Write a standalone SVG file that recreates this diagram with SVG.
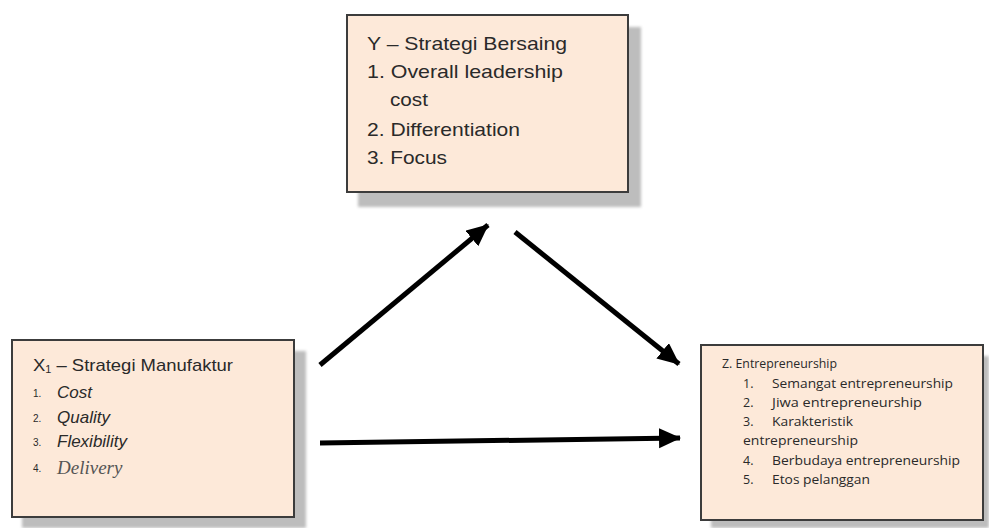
<svg xmlns="http://www.w3.org/2000/svg" width="989" height="528" viewBox="0 0 989 528">
<defs>
<marker id="ah" markerUnits="userSpaceOnUse" markerWidth="24" markerHeight="22" refX="21" refY="10" orient="auto">
<path d="M0,0 L22,10 L0,20 Z" fill="#000"/>
</marker>
<filter id="blur" x="-10%" y="-10%" width="120%" height="120%"><feGaussianBlur stdDeviation="1.5"/></filter>
</defs>
<style>
.shadow{fill:#bdbdbd;filter:url(#blur)}
.box{fill:#fde9d9;stroke:#3c3c3c;stroke-width:2}
.big{font-family:"Liberation Sans",Arial,sans-serif;font-size:19px;fill:#2a2a2a}
.mid{font-family:"Liberation Sans",Arial,sans-serif;font-size:17px;fill:#2a2a2a}
.num{font-family:"Liberation Sans",Arial,sans-serif;font-size:10px;fill:#2a2a2a}
.sm{font-family:"Open Sans","Liberation Sans",sans-serif;font-size:12.5px;fill:#2a2a2a}
.conn{stroke:#000;stroke-width:5;fill:none;marker-end:url(#ah)}
</style>
<rect width="989" height="528" fill="#fff"/>
<g id="node-y">
<rect class="shadow" x="358" y="27" width="283" height="180"/>
<rect class="box" x="347" y="15" width="281" height="177"/>
<text class="big" x="367" y="50" textLength="200" lengthAdjust="spacingAndGlyphs">Y – Strategi  Bersaing</text>
<text class="big" x="367" y="78" textLength="196" lengthAdjust="spacingAndGlyphs">1. Overall  leadership</text>
<text class="big" x="390" y="106" textLength="38" lengthAdjust="spacingAndGlyphs">cost</text>
<text class="big" x="367" y="136" textLength="153" lengthAdjust="spacingAndGlyphs">2. Differentiation</text>
<text class="big" x="367" y="164" textLength="80" lengthAdjust="spacingAndGlyphs">3. Focus</text>
</g>
<g id="node-x">
<rect class="shadow" x="22" y="351" width="284" height="177"/>
<rect class="box" x="12" y="340" width="282" height="177"/>
<text class="mid" x="33" y="371" textLength="200" lengthAdjust="spacingAndGlyphs">X<tspan font-size="10" dy="2">1</tspan><tspan dy="-2"> – Strategi Manufaktur</tspan></text>
<text class="num" x="33" y="397">1.</text>
<text class="mid" x="57" y="398" font-style="italic">Cost</text>
<text class="num" x="33" y="422">2.</text>
<text class="mid" x="57" y="423" font-style="italic">Quality</text>
<text class="num" x="33" y="446">3.</text>
<text class="mid" x="57" y="447" font-style="italic">Flexibility</text>
<text class="num" x="33" y="472">4.</text>
<text x="57" y="474" font-family="'Liberation Serif','Times New Roman',serif" font-size="19" font-style="italic" fill="#555">Delivery</text>
</g>
<g id="node-z">
<rect class="shadow" x="711" y="356" width="278" height="172"/>
<rect class="box" x="701" y="345" width="282" height="175"/>
<text class="sm" x="722" y="368" textLength="115" lengthAdjust="spacingAndGlyphs">Z. Entrepreneurship</text>
<text class="sm" x="743" y="388">1.</text>
<text class="sm" x="772" y="388" textLength="181" lengthAdjust="spacingAndGlyphs">Semangat entrepreneurship</text>
<text class="sm" x="743" y="407">2.</text>
<text class="sm" x="772" y="407" textLength="150" lengthAdjust="spacingAndGlyphs">Jiwa entrepreneurship</text>
<text class="sm" x="743" y="426">3.</text>
<text class="sm" x="772" y="426" textLength="81" lengthAdjust="spacingAndGlyphs">Karakteristik</text>
<text class="sm" x="743" y="445" textLength="115" lengthAdjust="spacingAndGlyphs">entrepreneurship</text>
<text class="sm" x="743" y="465">4.</text>
<text class="sm" x="772" y="465" textLength="188" lengthAdjust="spacingAndGlyphs">Berbudaya entrepreneurship</text>
<text class="sm" x="743" y="484">5.</text>
<text class="sm" x="772" y="484" textLength="98" lengthAdjust="spacingAndGlyphs">Etos pelanggan</text>
</g>
<g id="connectors">
<line class="conn" x1="320" y1="365" x2="488" y2="225"/>
<line class="conn" x1="515" y1="232" x2="679" y2="364"/>
<line class="conn" x1="320" y1="443" x2="680" y2="438"/>
</g>
</svg>
